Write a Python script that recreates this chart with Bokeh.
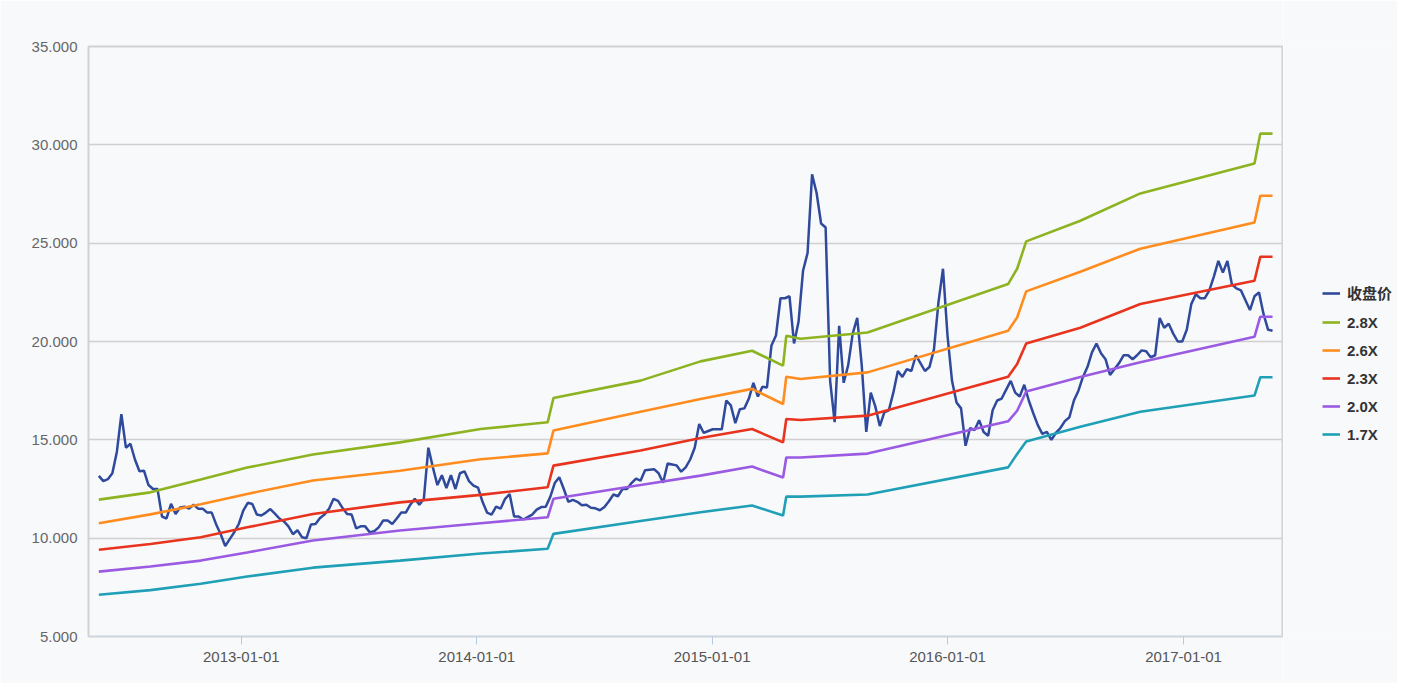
import pandas as pd
from bokeh.plotting import figure
from bokeh.layouts import row
from bokeh.models import (Range1d, FixedTicker, NumeralTickFormatter, DatetimeTickFormatter,
                          Legend, LegendItem)
from bokeh.embed import file_html
from bokeh.resources import INLINE

# ---------------- data ----------------
close_start = "2012-05-25"   # weekly closes (Fridays)
close_values = [
    13.17, 12.9, 13.0, 13.3, 14.4, 16.3, 14.6, 14.8, 14.0, 13.4,
    13.43, 12.7, 12.5, 12.5, 11.1, 11.0, 11.75, 11.23, 11.56, 11.6,
    11.5, 11.7, 11.5, 11.5, 11.3, 11.3, 10.7, 10.2, 9.6, 9.95,
    10.3, 10.72, 11.4, 11.8, 11.74, 11.2, 11.15, 11.3, 11.48, 11.25,
    11.0, 10.85, 10.6, 10.2, 10.4, 10.05, 10.0, 10.7, 10.72, 11.03,
    11.2, 11.5, 12.0, 11.9, 11.53, 11.23, 11.2, 10.5, 10.6, 10.6,
    10.3, 10.35, 10.55, 10.9, 10.9, 10.72, 11.0, 11.3, 11.3, 11.7,
    12.0, 11.7, 12.0, 14.6, 13.6, 12.7, 13.2, 12.55, 13.2, 12.5,
    13.3, 13.4, 12.9, 12.67, 12.57, 11.85, 11.3, 11.2, 11.6, 11.5,
    12.0, 12.24, 11.1, 11.1, 10.95, 11.07, 11.2, 11.45, 11.58, 11.6,
    12.1, 12.8, 13.1, 12.5, 11.85, 11.95, 11.85, 11.67, 11.7, 11.55,
    11.52, 11.42, 11.58, 11.88, 12.22, 12.13, 12.5, 12.5, 12.8, 13.03,
    12.92, 13.45, 13.48, 13.51, 13.3, 12.82, 13.8, 13.75, 13.7, 13.38,
    13.6, 14.0, 14.6, 15.8, 15.35, 15.45, 15.54, 15.54, 15.54, 17.0,
    16.75, 15.85, 16.56, 16.6, 17.1, 17.9, 17.2, 17.7, 17.66, 19.8,
    20.3, 22.2, 22.2, 22.3, 19.9, 21.0, 23.6, 24.5, 28.5, 27.55,
    26.0, 25.8, 18.0, 15.9, 20.8, 17.9, 18.8, 20.4, 21.2, 18.8,
    15.4, 17.4, 16.7, 15.7, 16.4, 16.5, 17.4, 18.5, 18.2, 18.6,
    18.5, 19.3, 18.9, 18.5, 18.7, 19.6, 22.0, 23.7, 20.3, 18.0,
    16.9, 16.6, 14.7, 15.6, 15.5, 16.0, 15.4, 15.2, 16.5, 17.0,
    17.1, 17.55, 18.0, 17.4, 17.2, 17.8, 17.0, 16.35, 15.75, 15.3,
    15.4, 15.0, 15.35, 15.6, 15.95, 16.15, 17.0, 17.5, 18.2, 18.7,
    19.45, 19.9, 19.4, 19.1, 18.3, 18.6, 18.9, 19.3, 19.3, 19.1,
    19.3, 19.55, 19.5, 19.2, 19.3, 21.2, 20.7, 20.9, 20.4, 20.0,
    20.0, 20.6, 21.9, 22.4, 22.2, 22.2, 22.6, 23.3, 24.1, 23.5,
    24.1, 22.9, 22.7, 22.6, 22.1, 21.6, 22.3, 22.5, 21.4, 20.6,
    20.55,
]

band_dates = [
    "2012-05-25", "2012-08-13", "2012-10-30", "2013-01-10", "2013-04-22", "2013-09-04",
    "2014-01-07", "2014-04-21", "2014-04-30", "2014-09-12", "2014-12-14", "2015-03-04",
    "2015-04-21", "2015-04-26", "2015-05-18", "2015-08-30", "2016-04-04", "2016-04-18",
    "2016-05-02", "2016-07-25", "2016-10-26", "2017-04-21", "2017-04-30", "2017-05-19",
]
band_28 = [11.96, 12.33, 12.98, 13.59, 14.25, 14.87, 15.55, 15.89, 17.13, 18.01, 18.99, 19.53,
           18.77, 20.29, 20.14, 20.46, 22.92, 23.70, 25.09, 26.14, 27.53, 29.05, 30.57, 30.57]
band_26 = [10.76, 11.21, 11.72, 12.25, 12.93, 13.43, 14.01, 14.31, 15.47, 16.43, 17.08, 17.59,
           16.82, 18.21, 18.09, 18.43, 20.55, 21.22, 22.55, 23.55, 24.72, 26.05, 27.41, 27.41]
band_23 = [9.41, 9.70, 10.05, 10.55, 11.23, 11.82, 12.20, 12.59, 13.69, 14.46, 15.09, 15.55,
           14.87, 16.06, 16.01, 16.23, 18.21, 18.86, 19.90, 20.70, 21.91, 23.09, 24.31, 24.31]
band_20 = [8.30, 8.56, 8.86, 9.27, 9.88, 10.39, 10.76, 11.06, 12.00, 12.70, 13.18, 13.64,
           13.08, 14.10, 14.10, 14.30, 15.94, 16.48, 17.46, 18.20, 18.94, 20.24, 21.26, 21.26]
band_17 = [7.12, 7.36, 7.68, 8.05, 8.50, 8.86, 9.22, 9.46, 10.22, 10.87, 11.32, 11.66,
           11.15, 12.11, 12.11, 12.22, 13.60, 14.28, 14.92, 15.66, 16.43, 17.25, 18.18, 18.18]

series_names = ["收盘价", "2.8X", "2.6X", "2.3X", "2.0X", "1.7X"]
series_colors = ["#2f4a9c", "#8db320", "#ff8c1e", "#e8341e", "#9a5ae2", "#1fa0b6"]
x_tick_labels = ["2013-01-01", "2014-01-01", "2015-01-01", "2016-01-01", "2017-01-01"]
y_ticks = [5, 10, 15, 20, 25, 30, 35]
x_start, x_end = "2012-05-09", "2017-06-05"

BG = "#f8f9fb"
H = 683

# ---------------- main figure ----------------
close_dates = pd.date_range(close_start, periods=len(close_values), freq="7D")
bdates = pd.to_datetime(band_dates)

p = figure(width=1283, height=H, x_axis_type="datetime", output_backend="svg",
           toolbar_location=None,
           x_range=Range1d(pd.Timestamp(x_start), pd.Timestamp(x_end)),
           y_range=Range1d(5, 35),
           min_border_left=88, min_border_right=0, min_border_top=46, min_border_bottom=H - 636)
p.background_fill_color = BG
p.border_fill_color = BG
p.outline_line_color = "#d2d2d2"
p.outline_line_width = 2

p.line(close_dates, close_values, line_color=series_colors[0], line_width=2.5)
for vals, col in zip([band_28, band_26, band_23, band_20, band_17], series_colors[1:]):
    p.line(bdates, vals, line_color=col, line_width=2.6)

axis_font = "Liberation Sans"
p.yaxis.ticker = FixedTicker(ticks=y_ticks)
p.yaxis.formatter = NumeralTickFormatter(format="0.000")
p.yaxis.major_tick_line_color = None
p.yaxis.minor_tick_line_color = None
p.yaxis.axis_line_color = None
p.yaxis.major_label_standoff = 5
p.yaxis.major_label_text_font = axis_font
p.yaxis.major_label_text_font_size = "15px"
p.yaxis.major_label_text_color = "#666666"

p.xaxis.ticker = FixedTicker(ticks=[pd.Timestamp(t).value // 10**6 for t in x_tick_labels])
p.xaxis.formatter = DatetimeTickFormatter(years="%Y-%m-%d", months="%Y-%m-%d", days="%Y-%m-%d")
p.xaxis.major_tick_line_color = "#b9cbe3"
p.xaxis.major_tick_in = 0
p.xaxis.major_tick_out = 8
p.xaxis.minor_tick_line_color = None
p.xaxis.axis_line_color = "#c9d7ea"
p.xaxis.major_label_standoff = 7
p.xaxis.major_label_text_font = axis_font
p.xaxis.major_label_text_font_size = "15px"
p.xaxis.major_label_text_color = "#555555"

p.xgrid.grid_line_color = None
p.ygrid.grid_line_color = "#d0d0d0"
p.ygrid.grid_line_width = 1.5

# ---------------- legend panel ----------------
lf = figure(width=114, height=H, output_backend="svg", toolbar_location=None,
            x_range=Range1d(0, 1), y_range=Range1d(0, 1),
            min_border_left=0, min_border_right=0, min_border_top=0, min_border_bottom=0)
lf.axis.visible = False
lf.grid.visible = False
lf.outline_line_color = None
lf.background_fill_color = BG
lf.border_fill_color = BG
# legend proxies: kept outside the panel's visible range, only their legend glyphs show
proxies = [lf.line([5, 6], [5, 6], line_color=c, line_width=2.6) for c in series_colors]

legend = Legend(items=[LegendItem(label=n, renderers=[rr]) for n, rr in zip(series_names, proxies)],
                location=(39, 193), orientation="vertical",
                glyph_width=18, glyph_height=18, label_height=18, spacing=10,
                padding=0, margin=0, label_standoff=7,
                border_line_color=None, background_fill_alpha=0,
                label_text_font="Liberation Sans, Noto Sans CJK SC",
                label_text_font_size="15px", label_text_font_style="bold",
                label_text_color="#333333")
lf.add_layout(legend)

layout = row(p, lf, spacing=0)
open("out.html", "w").write(file_html(layout, INLINE))
